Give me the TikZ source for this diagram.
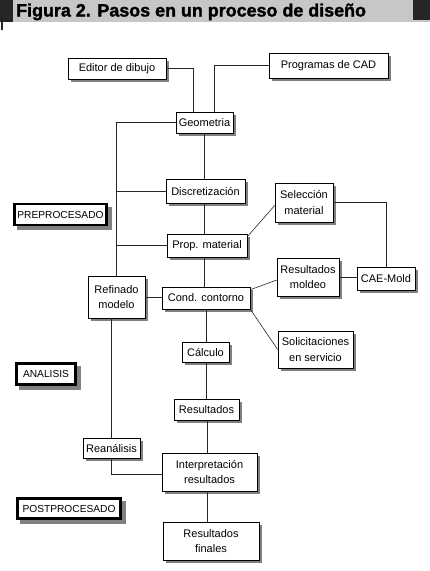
\documentclass[tikz,border=0pt]{standalone}
\usepackage{fontspec}
\setmainfont{Liberation Sans}
\newfontfamily\titlefont{Liberation Sans}[BoldFeatures={FakeBold=1.6}]
\usetikzlibrary{backgrounds}
\begin{document}
\begin{tikzpicture}[x=1pt,y=-1pt,
  box/.style={draw=black, line width=0.6pt, fill=white, inner sep=0pt, align=center,
    font=\fontsize{11}{15.5}\selectfont},
  phase/.style={box, line width=2.2pt, font=\fontsize{10.2}{12}\selectfont},
  shadowfill/.style={fill=black!50},
  conn/.style={draw=black!85, line width=0.6pt}]
\useasboundingbox (0,0) rectangle (430,571);
% title bar
\fill[black!22] (0,0) rectangle (430,22);
\fill[black!85] (0,0) rectangle (13,22);
\fill[black!85] (413,0) rectangle (430,20);
\fill[black!85] (1,22) rectangle (3,30);
\node[anchor=base west, inner sep=0pt, font=\fontsize{17.9}{20}\selectfont\titlefont\bfseries] (title) at (16,16.5) {Figura 2. Pasos en un proceso de diseño};
% nodes
\node[box, minimum width=98pt, minimum height=21pt] (editor) at (117,68.5) {Editor de dibujo};
\node[box, minimum width=119pt, minimum height=25pt] (cad) at (328.5,65.5) {Programas de CAD};
\node[box, minimum width=57pt, minimum height=21pt] (geom) at (204.5,122.5) {Geometria};
\node[box, minimum width=79pt, minimum height=24pt] (discr) at (205.5,191) {Discretización};
\node[box, minimum width=80pt, minimum height=23pt] (prop) at (207,245.5) {Prop. material};
\node[box, minimum width=58pt, minimum height=39pt] (selec) at (304,202.5) {Selección\\material};
\node[box, minimum width=58pt, minimum height=23pt] (cae) at (386,278.5) {CAE-Mold};
\node[box, minimum width=62pt, minimum height=38pt] (resmold) at (308,277) {Resultados\\moldeo};
\node[box, minimum width=88pt, minimum height=22pt] (cond) at (206,298) {Cond. contorno};
\node[box, minimum width=57pt, minimum height=42pt] (refin) at (116.5,297) {Refinado\\modelo};
\node[box, minimum width=47pt, minimum height=20pt] (calc) at (205.5,352) {Cálculo};
\node[box, minimum width=65pt, minimum height=21pt] (result) at (206.5,409.5) {Resultados};
\node[box, minimum width=75pt, minimum height=37pt] (solic) at (315.5,349.5) {Solicitaciones\\en servicio};
\node[box, minimum width=57pt, minimum height=20pt] (reana) at (111.5,448) {Reanálisis};
\node[box, minimum width=95pt, minimum height=38pt] (interp) at (209.5,472) {Interpretación\\resultados};
\node[box, minimum width=96pt, minimum height=38pt] (finales) at (211,541) {Resultados\\finales};
\node[phase, minimum width=92pt, minimum height=21pt] (prepro) at (60.5,214.5) {PREPROCESADO};
\node[phase, minimum width=59pt, minimum height=21pt] (analisis) at (46,374) {ANALISIS};
\node[phase, minimum width=103pt, minimum height=20pt] (postpro) at (69,508.5) {POSTPROCESADO};
% shadows
\begin{scope}[on background layer]
\foreach \n in {editor,cad,geom,discr,prop,selec,cae,resmold,cond,refin,calc,result,solic,reana,interp,finales}
  \fill[shadowfill] ([xshift=3pt,yshift=-3pt]\n.south west) rectangle ([xshift=3pt,yshift=-3pt]\n.north east);
\foreach \n in {prepro,analisis,postpro}
  \fill[shadowfill] ([xshift=4pt,yshift=-4pt]\n.south west) rectangle ([xshift=4pt,yshift=-4pt]\n.north east);
\end{scope}
% connectors
\draw[conn] (editor.east) -| ([xshift=-11.5pt]geom.north);
\draw[conn] (cad.west) -| ([xshift=9.5pt]geom.north);
\draw[conn] (geom.west) -| (refin.north);
\draw[conn] (refin.north |- discr.west) -- (discr.west);
\draw[conn] (refin.north |- prop.west) -- (prop.west);
\draw[conn] (geom.south) -- (geom.south |- discr.north);
\draw[conn] (geom.south |- discr.south) -- (geom.south |- prop.north);
\draw[conn] (geom.south |- prop.south) -- (geom.south |- cond.north);
\draw[conn] ([yshift=-3pt]prop.north east) -- ([yshift=-3pt]selec.west);
\draw[conn] (selec.east) -| (cae.north);
\draw[conn] (resmold.east) -- (resmold.east -| cae.west);
\draw[conn] ([yshift=-3pt]cond.north east) -- ([yshift=-3pt]resmold.west);
\draw[conn] (cond.south east) -- (solic.west);
\draw[conn] (refin.east) -- (refin.east -| cond.west);
\draw[conn] (cond.south) -- (cond.south |- calc.north);
\draw[conn] (cond.south |- calc.south) -- (cond.south |- result.north);
\draw[conn] ([xshift=0.5pt]result.south) -- ([xshift=0.5pt]result.south |- interp.north);
\draw[conn] ([xshift=-2pt]interp.south) -- ([xshift=-2pt]interp.south |- finales.north);
\draw[conn] (reana.north |- refin.south) -- (reana.north);
\draw[conn] (reana.south) |- ([yshift=-2pt]interp.west);
\end{tikzpicture}
\end{document}
